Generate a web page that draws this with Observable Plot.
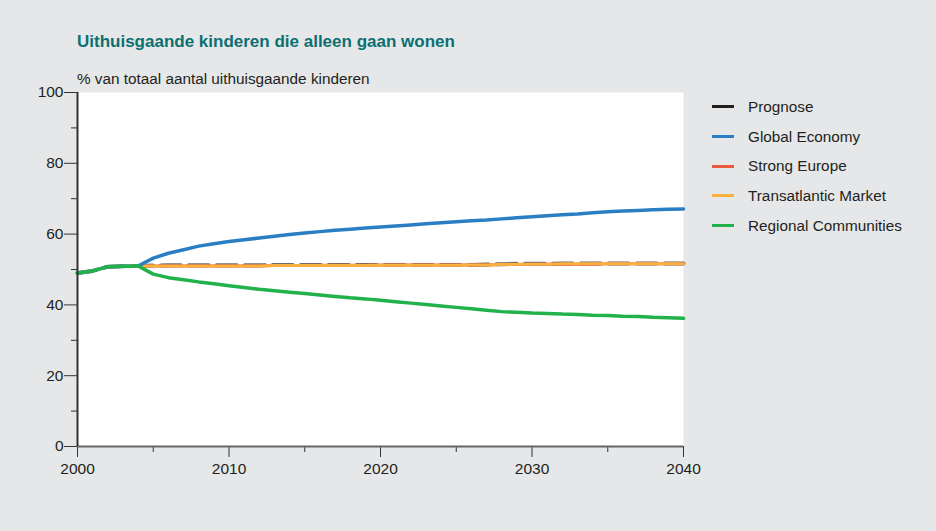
<!DOCTYPE html>
<html>
<head>
<meta charset="utf-8">
<script src="https://cdn.jsdelivr.net/npm/d3@7"></script>
<script src="https://cdn.jsdelivr.net/npm/@observablehq/plot@0.6"></script>
<style>
  html, body { margin: 0; padding: 0; background: #e6e7e8; }
  #wrap { position: relative; width: 936px; height: 531px; background: #e6e7e8; font-family: "Liberation Sans", Arial, sans-serif; overflow: hidden; }
  #title { position: absolute; left: 77px; top: 32px; font-size: 17px; font-weight: bold; color: #0b7072; white-space: nowrap; }
  #subtitle { position: absolute; left: 77px; top: 70px; font-size: 15.3px; color: #231f20; white-space: nowrap; }
  #legend { position: absolute; left: 712px; top: 92px; }
  .li { display: flex; align-items: center; height: 29.7px; }
  .sw { width: 22px; height: 3px; margin-right: 14px; }
  .lt { font-size: 15.3px; color: #231f20; white-space: nowrap; }
  #chart { position: absolute; left: 0; top: 0; }
</style>
</head>
<body>
<div id="wrap">
  <div id="chart"></div>
  <div id="title">Uithuisgaande kinderen die alleen gaan wonen</div>
  <div id="subtitle">% van totaal aantal uithuisgaande kinderen</div>
  <div id="legend"></div>
</div>
<script>
// ---- data ----
const histYears = [2000, 2001, 2002, 2003, 2004];
const histValues = [49.0, 49.6, 50.8, 50.9, 51.0];

const projYears = [2004, 2005, 2006, 2007, 2008, 2009, 2010, 2011, 2012, 2013, 2014, 2015, 2016, 2017, 2018, 2019, 2020,
  2021, 2022, 2023, 2024, 2025, 2026, 2027, 2028, 2029, 2030, 2031, 2032, 2033, 2034, 2035, 2036, 2037, 2038, 2039, 2040];

const prognose = [51.0, 51.1, 51.2, 51.2, 51.2, 51.2, 51.2, 51.2, 51.2, 51.3, 51.3, 51.3, 51.3, 51.3, 51.3, 51.3, 51.3,
  51.3, 51.3, 51.3, 51.3, 51.3, 51.3, 51.4, 51.5, 51.6, 51.6, 51.6, 51.7, 51.7, 51.7, 51.7, 51.7, 51.7, 51.7, 51.7, 51.7];
const globalEconomy = [51.0, 53.2, 54.6, 55.6, 56.6, 57.3, 57.9, 58.4, 58.9, 59.4, 59.9, 60.3, 60.7, 61.1, 61.4, 61.7, 62.0,
  62.3, 62.6, 62.9, 63.2, 63.5, 63.8, 64.0, 64.3, 64.6, 64.9, 65.2, 65.5, 65.7, 66.0, 66.3, 66.5, 66.7, 66.9, 67.0, 67.1];
const strongEurope = [51.0, 51.0, 51.0, 51.0, 51.0, 51.0, 51.0, 51.0, 51.0, 51.1, 51.1, 51.1, 51.2, 51.2, 51.2, 51.2, 51.3,
  51.3, 51.3, 51.3, 51.3, 51.3, 51.3, 51.3, 51.4, 51.4, 51.5, 51.5, 51.5, 51.5, 51.5, 51.6, 51.6, 51.6, 51.6, 51.6, 51.6];
const transatlantic = [51.0, 51.0, 51.0, 51.0, 51.0, 51.0, 51.0, 51.0, 51.0, 51.1, 51.1, 51.1, 51.1, 51.1, 51.1, 51.1, 51.2,
  51.2, 51.2, 51.2, 51.2, 51.2, 51.3, 51.3, 51.4, 51.5, 51.5, 51.5, 51.6, 51.6, 51.6, 51.6, 51.6, 51.6, 51.6, 51.6, 51.6];
const regional = [51.0, 48.7, 47.7, 47.1, 46.5, 46.0, 45.4, 44.9, 44.4, 44.0, 43.6, 43.2, 42.8, 42.4, 42.0, 41.7, 41.3,
  40.9, 40.5, 40.1, 39.7, 39.3, 38.9, 38.5, 38.1, 37.9, 37.7, 37.6, 37.4, 37.3, 37.1, 37.0, 36.8, 36.7, 36.5, 36.4, 36.2];

const seriesNames = ["Prognose", "Global Economy", "Strong Europe", "Transatlantic Market", "Regional Communities"];
const seriesColors = ["#231f20", "#2a7fc4", "#ea5a3c", "#fbb040", "#22b24c"];

const yMajor = [0, 20, 40, 60, 80, 100];
const yMinor = [10, 30, 50, 70, 90];
const xMajor = [2000, 2010, 2020, 2030, 2040];
const xMinor = [2005, 2015, 2025, 2035];

// ---- build rows ----
const seriesValues = [prognose, globalEconomy, strongEurope, transatlantic, regional];
const rows = [];
seriesNames.forEach((name, i) => {
  histYears.forEach((yr, j) => rows.push({series: name, year: yr, value: histValues[j]}));
  projYears.forEach((yr, j) => { if (yr > 2004) rows.push({series: name, year: yr, value: seriesValues[i][j]}); });
});
const byName = n => rows.filter(r => r.series === n);

const chart = Plot.plot({
  width: 936,
  height: 531,
  marginLeft: 77,
  marginRight: 253,
  marginTop: 92,
  marginBottom: 85,
  style: {background: "transparent", fontFamily: "Liberation Sans, Arial, sans-serif", fontSize: "14px", color: "#231f20"},
  x: {domain: [2000, 2040]},
  y: {domain: [0, 100]},
  marks: [
    Plot.frame({fill: "white", stroke: null}),
    Plot.axisY({ticks: yMajor, tickSize: 13, tickPadding: 1, label: null, stroke: "#333", fontSize: 15.5}),
    Plot.axisY({ticks: yMinor, tickSize: 6, tickFormat: () => "", label: null, stroke: "#333"}),
    Plot.axisX({ticks: xMajor, tickSize: 11, tickPadding: 5, tickFormat: d3.format("d"), label: null, stroke: "#333", fontSize: 15.5}),
    Plot.axisX({ticks: xMinor, tickSize: 6, tickFormat: () => "", label: null, stroke: "#333"}),
    Plot.line(byName("Prognose"), {x: "year", y: "value", stroke: "#6b6b6b", strokeWidth: 4, strokeDasharray: "20,8"}),
    Plot.line(byName("Strong Europe"), {x: "year", y: "value", stroke: seriesColors[2], strokeWidth: 3}),
    Plot.line(byName("Transatlantic Market"), {x: "year", y: "value", stroke: seriesColors[3], strokeWidth: 3}),
    Plot.line(byName("Global Economy"), {x: "year", y: "value", stroke: seriesColors[1], strokeWidth: 3.5}),
    Plot.line(byName("Regional Communities"), {x: "year", y: "value", stroke: seriesColors[4], strokeWidth: 3.5}),
    Plot.ruleY([0], {stroke: "#666", strokeWidth: 2}),
    Plot.ruleX([2000], {stroke: "#333", strokeWidth: 2})
  ]
});
document.getElementById("chart").appendChild(chart);

const legend = document.getElementById("legend");
seriesNames.forEach((n, i) => {
  const li = document.createElement("div");
  li.className = "li";
  li.innerHTML = `<div class="sw" style="background:${seriesColors[i]}"></div><div class="lt">${n}</div>`;
  legend.appendChild(li);
});
</script>
</body>
</html>
